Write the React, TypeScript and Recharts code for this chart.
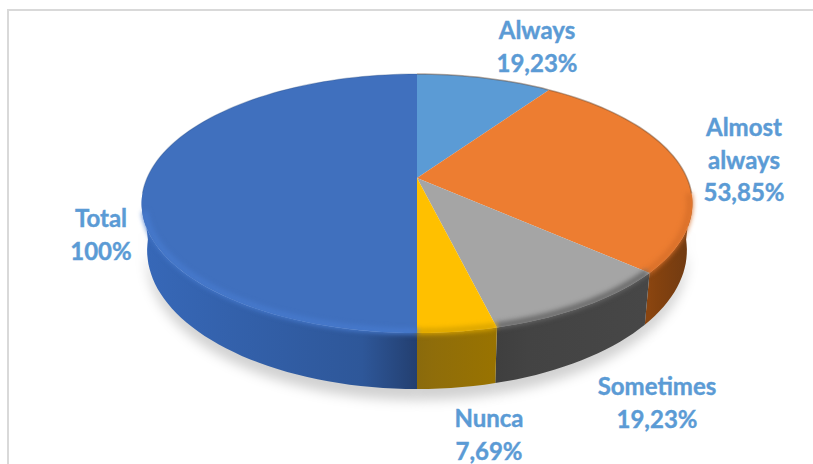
import { PieChart, Pie } from "recharts";

const categories = ["Always", "Almost always", "Sometimes", "Nunca", "Total"];
const percents = [19.23, 53.85, 19.23, 7.69, 100];
const labelLines = [["Always"], ["Almost", "always"], ["Sometimes"], ["Nunca"], ["Total"]];

const topColors = ["#5B9BD5", "#ED7D31", "#A5A5A5", "#FFC000", "#4070BE"];
const rimColors = ["#5B9BD5", "#D9702A", "#666666", "#D9A400", "#4679CC"];
// wall gradient, from the x=417 side outwards
const wallInner = ["#37608A", "#8A4510", "#3F3F3F", "#8A6A0C", "#233F70"];
const wallMiddle = ["#37608A", "#84420F", "#434343", "#8F6D0A", "#2E5799"];
const wallOuter = ["#37608A", "#6F3A12", "#474747", "#997300", "#3768B8"];

// label anchor: center x and first baseline
const labelAnchors = [
  { x: 537, y: 39 },
  { x: 744, y: 136 },
  { x: 657, y: 395 },
  { x: 489, y: 427 },
  { x: 101, y: 227 },
];

const TILT = 0.461;
const PERSPECTIVE = 0.197;
const WALL = 45;
const FRONT_START = 97;
const FRONT_END = 263;
const RIM_END = 255;

const project = (props: any, deg: number, scale = 1, drop = 0) => {
  const t = (deg * Math.PI) / 180;
  const w = 1 / (1 + PERSPECTIVE * Math.cos(t));
  const r = props.outerRadius * scale;
  return {
    x: props.cx + r * Math.sin(t) * w * (drop ? 0.98 : 1),
    y: props.cy - r * TILT * Math.cos(t) * w + drop * w,
  };
};

const arcPoints = (props: any, from: number, to: number, scale = 1, drop = 0) => {
  const pts = [];
  const n = Math.max(2, Math.ceil(Math.abs(to - from) / 2));
  for (let i = 0; i <= n; i++) {
    const p = project(props, from + ((to - from) * i) / n, scale, drop);
    pts.push(`${p.x.toFixed(1)},${p.y.toFixed(1)}`);
  }
  return pts;
};

const sweep = (props: any) => [90 - props.startAngle, 90 - props.endAngle];

const frontPart = (props: any) => {
  const [a, b] = sweep(props);
  return [Math.max(a, FRONT_START), Math.min(b, FRONT_END)];
};

const ShadowSlice = (props: any) => {
  const [a, b] = frontPart(props);
  if (b <= a) return <g />;
  const d = "M" + arcPoints(props, a, b, 1, WALL + 9).join("L") + "L" + arcPoints(props, b, a, 1, WALL - 10).join("L") + "Z";
  return <path d={d} fill="#000" fillOpacity={0.18} style={{ filter: "blur(6px)" }} />;
};

const WallSlice = (props: any) => {
  const [a, b] = frontPart(props);
  if (b <= a) return <g />;
  const i = categories.indexOf(props.name);
  const top = arcPoints(props, a, b);
  const bottom = arcPoints(props, b, a, 1, WALL);
  const start = project(props, a);
  const end = project(props, b);
  const id = `wall-${i}`;
  return (
    <g>
      <defs>
        <linearGradient id={id} gradientUnits="userSpaceOnUse" x1={i === 4 ? start.x : end.x} x2={i === 4 ? end.x : start.x} y1={0} y2={0}>
          <stop offset="0" stopColor={wallInner[i]} />
          <stop offset="0.2" stopColor={wallMiddle[i]} />
          <stop offset="1" stopColor={wallOuter[i]} />
        </linearGradient>
      </defs>
      <path d={"M" + top.join("L") + "L" + bottom.join("L") + "Z"} fill={`url(#${id})`} style={{ filter: "blur(0.5px)" }} />
    </g>
  );
};

const TopSlice = (props: any) => {
  const [a, b] = sweep(props);
  const [fa, fb] = frontPart(props);
  const rimEnd = Math.min(fb, RIM_END);
  const i = categories.indexOf(props.name);
  const d = `M${props.cx},${props.cy}L` + arcPoints(props, a, b).join("L") + "Z";
  return (
    <g>
      <path d={d} fill={topColors[i]} style={{ filter: "blur(0.7px)" }} />
      {rimEnd > fa && (
        <path
          d={"M" + arcPoints(props, fa, rimEnd, 0.99).join("L")}
          fill="none"
          stroke={rimColors[i]}
          strokeWidth={6}
          style={{ filter: "blur(2.5px)" }}
        />
      )}
      {a < FRONT_START && (
        <path
          d={"M" + arcPoints(props, a, Math.min(b, FRONT_START)).join("L")}
          fill="none"
          stroke="#6B4A30"
          strokeOpacity={0.45}
          strokeWidth={1.5}
        />
      )}
      {b > FRONT_END && (
        <path
          d={"M" + arcPoints(props, Math.max(a, FRONT_END), b).join("L")}
          fill="none"
          stroke="#2F4F80"
          strokeOpacity={0.3}
          strokeWidth={1.2}
        />
      )}
    </g>
  );
};

const formatPercent = (v: number) => (Number.isInteger(v) ? `${v}%` : `${v.toFixed(2).replace(".", ",")}%`);

const renderLabel = (props: any) => {
  const i = props.index;
  const lines = [...labelLines[i], formatPercent(percents[i])];
  return (
    <text
      key={i}
      x={labelAnchors[i].x}
      y={labelAnchors[i].y}
      textAnchor="middle"
      fill="#5B9BD5"
      stroke="#5B9BD5"
      strokeWidth={0.4}
      fontFamily="Lato"
      fontWeight={700}
      fontSize={24}
    >
      {lines.map((line, j) => (
        <tspan key={j} x={labelAnchors[i].x} dy={j === 0 ? 0 : 32.5}>
          {line}
        </tspan>
      ))}
    </text>
  );
};

const tableData = categories.map((name, i) => ({ name, value: percents[i] }));

const pieProps = {
  data: tableData,
  dataKey: "value",
  nameKey: "name",
  cx: 417,
  cy: 178,
  outerRadius: 270,
  startAngle: 90,
  endAngle: -270,
  stroke: "none",
  isAnimationActive: false,
};

export default function App() {
  return (
    <div style={{ position: "absolute", left: 0, top: 0, width: 813, height: 464, background: "#fff", overflow: "hidden" }}>
      <div style={{ position: "absolute", left: 7, top: 9, width: 806, height: 455, borderLeft: "2px solid #d9d9d9", borderTop: "2px solid #d9d9d9" }} />
      <div style={{ position: "absolute", left: 0, top: 0 }}>
        <PieChart width={813} height={464} margin={{ top: 0, right: 0, bottom: 0, left: 0 }}>
          <Pie {...pieProps} shape={ShadowSlice} />
          <Pie {...pieProps} shape={WallSlice} />
          <Pie {...pieProps} shape={TopSlice} label={renderLabel} labelLine={false} />
        </PieChart>
      </div>
    </div>
  );
}
